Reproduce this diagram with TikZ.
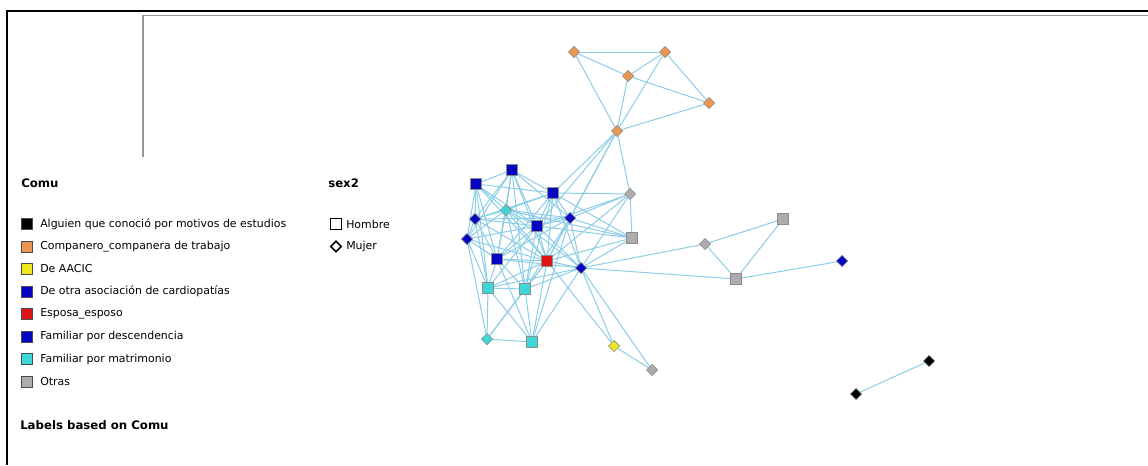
\documentclass[tikz,border=0pt]{standalone}
\usepackage{fontspec}
\setmainfont{DejaVu Sans}
\usetikzlibrary{shapes.geometric,backgrounds}

\definecolor{edgec}{RGB}{140,205,230}
\definecolor{nblue}{RGB}{5,5,195}
\definecolor{ncyan}{RGB}{60,215,215}
\definecolor{norange}{RGB}{232,150,80}
\definecolor{ngray}{RGB}{172,172,172}
\definecolor{nred}{RGB}{222,20,20}
\definecolor{nyellow}{RGB}{240,230,30}
\definecolor{frameg}{RGB}{150,150,150}

\tikzset{
  sq/.style={rectangle, draw=black!45, line width=0.4pt, minimum size=8.2pt, inner sep=0pt},
  dm/.style={diamond, draw=black!45, line width=0.4pt, minimum size=8.6pt, inner sep=0pt},
  tie/.style={draw=edgec, line width=0.75pt},
  keybox/.style={rectangle, draw=black!70, line width=0.5pt, minimum size=8pt, inner sep=0pt},
  keytext/.style={anchor=west, inner sep=0pt, font=\fontsize{8.2}{10}\selectfont},
  head/.style={anchor=west, inner sep=0pt, font=\fontsize{8.8}{11}\selectfont\bfseries},
}

\begin{document}
\begin{tikzpicture}[x={(0.75pt,0)}, y={(0,-0.75pt)}]
\useasboundingbox (0,0) rectangle (1148,465);

% window frame
\draw[black, line width=1.6pt] (7,465) -- (7,11) -- (1148,11);
\draw[frameg, line width=1.4pt] (143,157) -- (143,15.5) -- (1148,15.5);

% ---------- network nodes ----------
% orange
\node[dm, fill=norange] (o1) at (574,52) {};
\node[dm, fill=norange] (o2) at (665,52) {};
\node[dm, fill=norange] (o3) at (628,76) {};
\node[dm, fill=norange] (o4) at (709,103) {};
\node[dm, fill=norange] (o5) at (617,131) {};
% grey
\node[dm, fill=ngray] (g1) at (630,194) {};
\node[sq, fill=ngray] (g2) at (632,238) {};
\node[dm, fill=ngray] (g3) at (705,244) {};
\node[sq, fill=ngray] (g4) at (783,219) {};
\node[sq, fill=ngray] (g5) at (736,279) {};
\node[dm, fill=ngray] (g6) at (652,370) {};
% yellow
\node[dm, fill=nyellow] (y1) at (614,346) {};
% blue
\node[sq, fill=nblue] (b1) at (512,170) {};
\node[sq, fill=nblue] (b2) at (476,184) {};
\node[sq, fill=nblue] (b3) at (553,193) {};
\node[dm, fill=nblue] (b4) at (475,219) {};
\node[dm, fill=nblue] (b5) at (570,218) {};
\node[sq, fill=nblue] (b6) at (537,226) {};
\node[dm, fill=nblue] (b7) at (467,239) {};
\node[sq, fill=nblue] (b8) at (497,259) {};
\node[dm, fill=nblue] (b9) at (581,268) {};
\node[dm, fill=nblue] (b10) at (842,261) {};
% cyan
\node[dm, fill=ncyan] (c1) at (506,210) {};
\node[sq, fill=ncyan] (c2) at (488,288) {};
\node[sq, fill=ncyan] (c3) at (525,289) {};
\node[dm, fill=ncyan] (c4) at (487,339) {};
\node[sq, fill=ncyan] (c5) at (532,342) {};
% red
\node[sq, fill=nred] (r1) at (547,261) {};
% black
\node[dm, fill=black] (k1) at (929,361) {};
\node[dm, fill=black] (k2) at (856,394) {};

% ---------- ties ----------
\begin{pgfonlayer}{background}
\foreach \a/\b in {
  o1/o2, o1/o3, o1/o5, o2/o3, o2/o4, o2/o5, o3/o5, o3/o4, o5/o4,
  o5/b3, o5/b6, o5/b5, o5/r1, o5/g1,
  b1/b2, b1/b3, b1/c1, b1/b6, b1/b4, b1/r1, b1/b8, b1/b5, b1/b7, b1/c3,
  b2/b4, b2/c1, b2/b6, b2/b3, b2/b8, b2/r1, b2/b7, b2/c2,
  b3/c1, b3/b6, b3/b5, b3/r1, b3/b9, b3/b4, b3/b8, b3/c3,
  b4/c1, b4/b7, b4/b6, b4/b8, b4/c2, b4/r1, b4/b5,
  b5/b6, b5/r1, b5/b9, b5/c1, b5/b8, b5/c3, b5/c5,
  b6/c1, b6/r1, b6/b9, b6/b8, b6/b7, b6/c3, b6/c2,
  b7/c1, b7/b8, b7/c2, b7/r1, b7/c4,
  b8/r1, b8/c2, b8/c3, b8/c1, b8/c5, b8/b9,
  c1/r1, c1/c3, c1/b9, c1/g2,
  r1/b9, r1/c3, r1/c2, r1/c5, r1/c4,
  c2/c3, c2/c4, c2/c5, c2/b9,
  c3/c4, c3/c5, c3/b9,
  c4/c5, c5/b9,
  g1/b3, g1/b5, g1/b6, g1/b9, g1/r1, g1/g2,
  g2/b3, g2/b5, g2/b6, g2/b9, g2/r1,
  b9/g3, b9/g5, b9/y1, b9/g6, r1/y1, y1/g6,
  g3/g4, g3/g5, g4/g5, g5/b10,
  k1/k2}
  \draw[tie] (\a) -- (\b);
\end{pgfonlayer}

% ---------- legend ----------
\node[head] (comu) at (21,183) {Comu};
\node[head] (sexh) at (328,183) {sex2};

\node[keybox, fill=black]   (k-a) at (27,224) {};
\node[keybox, fill=norange] (k-b) at (27,246.5) {};
\node[keybox, fill=nyellow] (k-c) at (27,269) {};
\node[keybox, fill=nblue]   (k-d) at (27,291.5) {};
\node[keybox, fill=nred]    (k-e) at (27,314) {};
\node[keybox, fill=nblue]   (k-f) at (27,336.5) {};
\node[keybox, fill=ncyan]   (k-g) at (27,359) {};
\node[keybox, fill=ngray]   (k-h) at (27,381.5) {};

\node[keytext] (t-a) at (40,224) {Alguien que conoció por motivos de estudios};
\node[keytext] (t-b) at (40,246.5) {Companero\_companera de trabajo};
\node[keytext] (t-c) at (40,269) {De AACIC};
\node[keytext] (t-d) at (40,291.5) {De otra asociación de cardiopatías};
\node[keytext] (t-e) at (40,314) {Esposa\_esposo};
\node[keytext] (t-f) at (40,336.5) {Familiar por descendencia};
\node[keytext] (t-g) at (40,359) {Familiar por matrimonio};
\node[keytext] (t-h) at (40,381.5) {Otras};

\node[rectangle, draw=black, line width=1pt, minimum size=8pt, inner sep=0pt] (s-m) at (336,224) {};
\node[diamond, draw=black, line width=1.2pt, minimum size=8.5pt, inner sep=0pt] (s-f) at (336,246.5) {};
\node[keytext] (t-m) at (346,224) {Hombre};
\node[keytext] (t-f2) at (346,246.5) {Mujer};

\node[head] (lab) at (20,425) {Labels based on Comu};
\end{tikzpicture}
\end{document}
